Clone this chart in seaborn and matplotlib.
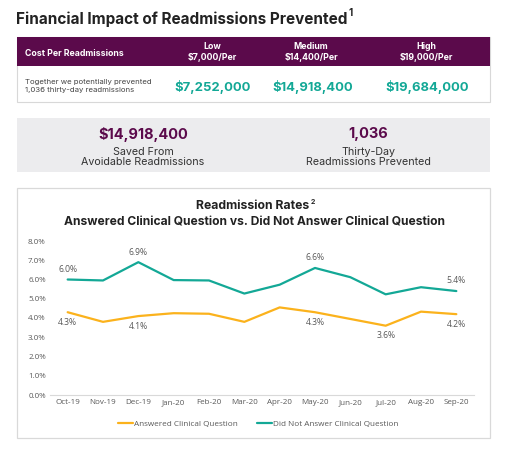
import numpy as np
import pandas as pd
import matplotlib
matplotlib.use('Agg')
import matplotlib.pyplot as plt
from matplotlib.patches import Rectangle
from matplotlib.lines import Line2D
import seaborn as sns

# 数据
months = ['Oct-19', 'Nov-19', 'Dec-19', 'Jan-20', 'Feb-20', 'Mar-20',
          'Apr-20', 'May-20', 'Jun-20', 'Jul-20', 'Aug-20', 'Sep-20']
answered = [4.3, 3.8, 4.1, 4.25, 4.22, 3.8, 4.55, 4.3, 3.95, 3.6, 4.33, 4.2]
not_answered = [6.0, 5.95, 6.9, 5.97, 5.95, 5.27, 5.73, 6.6, 6.12, 5.23, 5.6, 5.4]
answered_label_idx = [0, 2, 7, 9, 11]
not_answered_label_idx = [0, 2, 7, 11]
series_names = ['Answered Clinical Question', 'Did Not Answer Clinical Question']
yticks = [0, 1, 2, 3, 4, 5, 6, 7, 8]

tiers = ['Low\n$7,000/Per', 'Medium\n$14,400/Per', 'High\n$19,000/Per']
savings = ['$7,252,000', '$14,918,400', '$19,684,000']
summary_values = ['$14,918,400', '1,036']
summary_labels = ['Saved From\nAvoidable Readmissions', 'Thirty-Day\nReadmissions Prevented']

# 颜色
PURPLE = '#5b0a4b'
TEAL = '#13a896'
ORANGE = '#fbb21c'
GRAY_TXT = '#595959'
CHART_FONT = ['Open Sans', 'DejaVu Sans']

sns.set_theme(style='white')
plt.rcParams['font.family'] = ['Inter', 'DejaVu Sans']

W, H = 512, 450
fig = plt.figure(figsize=(W / 100, H / 100), dpi=100)
fig.patch.set_facecolor('white')

# 背景坐标轴（像素坐标）
bg = fig.add_axes([0, 0, 1, 1])
bg.set_xlim(0, W)
bg.set_ylim(H, 0)
bg.axis('off')

title = bg.text(16, 19, 'Financial Impact of Readmissions Prevented', fontsize=11,
                fontweight='bold', color='#222222', va='center', ha='left')

# 表格
bg.add_patch(Rectangle((17, 37), 473, 65, facecolor='white', edgecolor='#d8d8d8', lw=0.8))
bg.add_patch(Rectangle((17, 37), 473, 29, facecolor=PURPLE, edgecolor='none'))
bg.text(25, 53, 'Cost Per Readmissions', fontsize=6.3, fontweight='bold',
        color='white', va='center', ha='left')
tier_x = [212, 311, 426]
val_x = [213, 313, 427]
for x, t in zip(tier_x, tiers):
    bg.text(x, 52, t, fontsize=6.3, fontweight='bold', color='white',
            va='center', ha='center', linespacing=1.15)
bg.text(25, 86, 'Together we potentially prevented\n1,036 thirty-day readmissions',
        fontsize=5.6, color='#444444', va='center', ha='left', linespacing=1.5)
for x, s in zip(val_x, savings):
    bg.text(x, 87, s, fontsize=9.4, fontweight='bold', color=TEAL, va='center', ha='center')

# 汇总灰框
bg.add_patch(Rectangle((17, 118), 473, 54, facecolor='#ececee', edgecolor='none'))
for x, v, l in zip([143, 368], summary_values, summary_labels):
    bg.text(x, 134, v, fontsize=10.5, fontweight='bold', color=PURPLE, va='center', ha='center')
    bg.text(x, 157, l, fontsize=7.7, color='#333333', va='center', ha='center', linespacing=1.05)

# 图表边框
bg.add_patch(Rectangle((17, 188), 473, 250, facecolor='white', edgecolor='#d9d9d9', lw=0.9))
sub = bg.text(253, 206, 'Readmission Rates', fontsize=8.8, fontweight='bold',
              color='#222222', va='center', ha='center')
bg.text(254, 222, 'Answered Clinical Question vs. Did Not Answer Clinical Question',
        fontsize=8.7, fontweight='bold', color='#222222', va='center', ha='center')

# 折线图
df = pd.DataFrame({
    'month': months * 2,
    'rate': answered + not_answered,
    'series': [series_names[0]] * len(months) + [series_names[1]] * len(months),
})
df['month'] = pd.Categorical(df['month'], categories=months, ordered=True)

left_px, right_px, top_px, bot_px = 50, 474, 241, 395
ax = fig.add_axes([left_px / W, (H - bot_px) / H, (right_px - left_px) / W, (bot_px - top_px) / H])
ax.patch.set_alpha(0)
sns.lineplot(data=df, x='month', y='rate', hue='series',
             palette={series_names[0]: ORANGE, series_names[1]: TEAL},
             linewidth=1.6, ax=ax, legend=False, sort=False)
ax.set_xlim(-0.5, len(months) - 0.5)
ax.set_ylim(0, 8)
ax.set_yticks(yticks)
ax.set_yticklabels([f'{v:.1f}%' for v in yticks], fontfamily=CHART_FONT)
ax.set_xticks(range(len(months)))
ax.set_xticklabels(months, fontfamily=CHART_FONT)
ax.tick_params(axis='both', labelsize=5.8, colors=GRAY_TXT, length=0, pad=3)
ax.set_xlabel('')
ax.set_ylabel('')
for s in ['top', 'right', 'left']:
    ax.spines[s].set_visible(False)
ax.spines['bottom'].set_color('#d9d9d9')
ax.spines['bottom'].set_linewidth(0.8)

# 数据标签
for i in not_answered_label_idx:
    ax.annotate(f'{not_answered[i]:.1f}%', (i, not_answered[i]), xytext=(0, 4),
                textcoords='offset points', ha='center', va='bottom', fontsize=6.2,
                color=GRAY_TXT, fontfamily=CHART_FONT)
for i in answered_label_idx:
    ax.annotate(f'{answered[i]:.1f}%', (i, answered[i]), xytext=(0, -4),
                textcoords='offset points', ha='center', va='top', fontsize=6.2,
                color=GRAY_TXT, fontfamily=CHART_FONT)

# 图例
handles = [Line2D([], [], color=ORANGE, lw=1.6), Line2D([], [], color=TEAL, lw=1.6)]
fig.legend(handles, series_names, loc='center', bbox_to_anchor=(258 / W, (H - 424) / H),
           ncol=2, frameon=False, handlelength=1.9, handletextpad=0.1,
           columnspacing=2.3, labelcolor=GRAY_TXT, prop={'family': CHART_FONT, 'size': 5.9})

# 上标：放在文字末尾
fig.canvas.draw()
r = fig.canvas.get_renderer()
tb = title.get_window_extent(r)
sb = sub.get_window_extent(r)
bg.text(tb.x1 + 1, 13, '1', fontsize=7, fontweight='bold', color='#222222', va='center', ha='left')
bg.text(sb.x1 + 1, 202, '2', fontsize=5, fontweight='bold', color='#222222', va='center', ha='left')

fig.savefig('out.png', dpi=100)
